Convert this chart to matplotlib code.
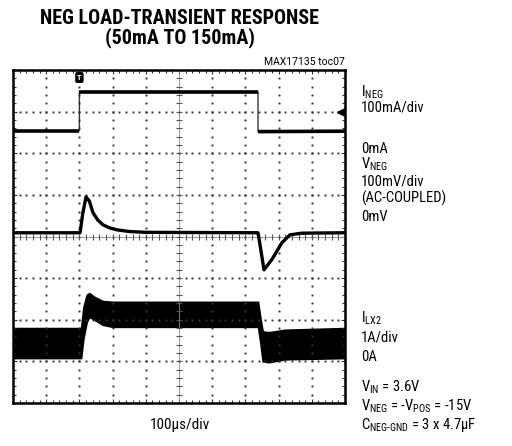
import matplotlib
matplotlib.use("Agg")
import matplotlib.pyplot as plt
import numpy as np

plt.rcParams['font.family'] = ['Roboto Condensed', 'DejaVu Sans']
plt.rcParams['mathtext.fontset'] = 'custom'
plt.rcParams['mathtext.rm'] = 'Roboto Condensed'
plt.rcParams['mathtext.it'] = 'Roboto Condensed'

# scope traces, in divisions (x: 0..10 div, y: 0..8 div)
ineg_t = [0, 2.0, 2.0, 7.38, 7.38, 10]
ineg_v = [6.54, 6.54, 7.48, 7.48, 6.52, 6.53]

vneg_t = [0, 2.02, 2.1, 2.2, 2.3, 2.41, 2.55, 2.71, 2.9, 3.13, 3.5, 4.0, 7.38, 7.45, 7.56, 7.8, 8.1, 8.34, 8.7, 10]
vneg_v = [4.09, 4.09, 4.55, 4.95, 4.85, 4.57, 4.40, 4.28, 4.21, 4.16, 4.12, 4.10, 4.09, 3.75, 3.20, 3.45, 3.85, 4.04, 4.08, 4.09]

ilx2_t = [0, 2.05, 2.12, 2.22, 2.3, 2.45, 2.7, 3.0, 7.38, 7.45, 7.52, 7.7, 8.2, 10]
ilx2_hi = [1.80, 1.80, 2.30, 2.60, 2.64, 2.55, 2.45, 2.43, 2.43, 2.05, 1.72, 1.70, 1.76, 1.80]
ilx2_lo = [1.08, 1.08, 1.55, 1.95, 2.07, 2.00, 1.88, 1.83, 1.83, 1.45, 1.00, 0.98, 1.05, 1.08]

trigger_t = 2.0
ineg_zero = 7.0

right_labels = [
    (92, r'I$_{\mathrm{NEG}}$'),
    (107, '100mA/div'),
    (149, '0mA'),
    (164, r'V$_{\mathrm{NEG}}$'),
    (181, '100mV/div'),
    (198, '(AC-COUPLED)'),
    (217, '0mV'),
    (318, r'I$_{\mathrm{LX2}}$'),
    (337, '1A/div'),
    (357, '0A'),
    (387, r'V$_{\mathrm{IN}}$ = 3.6V'),
    (406, r'V$_{\mathrm{NEG}}$ = -V$_{\mathrm{POS}}$ = -15V'),
    (425, r'C$_{\mathrm{NEG\text{-}GND}}$ = 3 x 4.7µF'),
]

W, H = 512, 446
fig = plt.figure(figsize=(W / 100, H / 100), dpi=100)
ax = fig.add_axes([13 / W, 1 - 403 / H, 332 / W, 333 / H])
ax.set_xlim(0, 10)
ax.set_ylim(0, 8)

# graticule
dot_y = np.arange(0, 8.01, 0.2)
dot_x = np.arange(0, 10.01, 0.2)
for gx in range(1, 10):
    if gx == 5:
        continue
    ax.plot([gx] * len(dot_y), dot_y, ls='none', marker='s', ms=1.4, color='#333', mew=0)
for gy in range(1, 8):
    if gy == 4:
        continue
    ax.plot(dot_x, [gy] * len(dot_x), ls='none', marker='s', ms=1.4, color='#333', mew=0)
ax.axvline(5, color='#888', lw=0.6)
ax.axhline(4, color='#888', lw=0.6)
ax.plot([5] * len(dot_y), dot_y, ls='none', marker='_', ms=4, color='#555', mew=0.8)
ax.plot(dot_x, [4] * len(dot_x), ls='none', marker='|', ms=4, color='#555', mew=0.8)

ax.set_xticks(np.arange(0, 10.01, 1))
ax.set_yticks(np.arange(0, 8.01, 1))
ax.set_xticks(dot_x, minor=True)
ax.set_yticks(dot_y, minor=True)
ax.tick_params(which='both', direction='in', top=True, right=True,
               labelbottom=False, labelleft=False, color='#333')
ax.tick_params(which='major', length=3, width=0.8)
ax.tick_params(which='minor', length=2, width=0.8)
for s in ax.spines.values():
    s.set_linewidth(1.8)

# traces: thin edges, thick noisy flat parts
ax.plot(ineg_t, ineg_v, color='#333', lw=1.0)
for i in range(len(ineg_t) - 1):
    if ineg_t[i] != ineg_t[i + 1]:
        ax.plot(ineg_t[i:i + 2], ineg_v[i:i + 2], color='black', lw=2.6, solid_capstyle='butt')
ax.plot(vneg_t, vneg_v, color='black', lw=2.4)
ax.fill_between(ilx2_t, ilx2_lo, ilx2_hi, color='black', lw=1.2, edgecolor='black')

# trigger and ground markers
ax.text(trigger_t, 7.82, 'T', ha='center', va='center', color='white', fontsize=6,
        fontweight='bold', bbox=dict(boxstyle='round,pad=0.15', fc='black', ec='black'))
ax.plot([9.88], [ineg_zero], marker='<', ms=6, color='black')

# texts
fig.text(180 / W, 1 - 19 / H, 'NEG LOAD-TRANSIENT RESPONSE', ha='center', va='center',
         fontsize=14.5, fontweight='bold')
fig.text(180 / W, 1 - 38 / H, '(50mA TO 150mA)', ha='center', va='center',
         fontsize=14.5, fontweight='bold')
fig.text(345 / W, 1 - 62 / H, 'MAX17135 toc07', ha='right', va='center', fontsize=7.5,
         family=['Roboto', 'DejaVu Sans'])
fig.text(180 / W, 1 - 425 / H, '100µs/div', ha='center', va='center', fontsize=11)
for y, s in right_labels:
    fig.text(361 / W, 1 - y / H, s, ha='left', va='center', fontsize=10.5)

fig.savefig('out.png', dpi=100)
